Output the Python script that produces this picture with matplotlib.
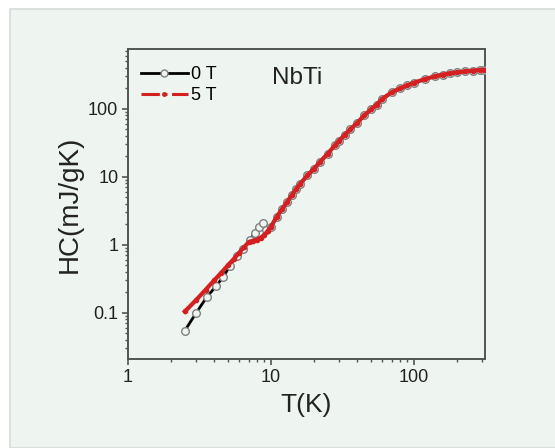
import matplotlib.pyplot as plt
from matplotlib.lines import Line2D
from matplotlib.patches import Rectangle
from matplotlib.ticker import LogLocator, NullFormatter, FixedLocator, FixedFormatter

plt.rcParams['font.family'] = ['Liberation Sans', 'DejaVu Sans']

BG = '#eef4f0'

# 0 T: superconducting part (open circles)
t_0T_sc = [2.5, 3.0, 3.55, 4.15, 4.65, 5.15, 5.75, 6.4, 7.1, 7.7, 8.3, 8.8, 9.3]
hc_0T_sc = [0.055, 0.10, 0.17, 0.25, 0.34, 0.49, 0.69, 0.86, 1.18, 1.49, 1.86, 2.13, 1.66]

# 5 T: low temperature part
t_5T_low = [2.5, 3.0, 3.5, 4.0, 4.5, 5.0, 5.5, 6.0, 6.5, 7.0, 7.5, 8.0, 8.5, 9.0, 9.5]
hc_5T_low = [0.105, 0.155, 0.22, 0.30, 0.39, 0.50, 0.62, 0.77, 0.93, 1.10, 1.15, 1.20, 1.28, 1.40, 1.60]

# normal state (both fields coincide)
t_normal = [10, 11, 12, 13, 14, 15, 16, 18, 20, 22, 25, 28, 30, 33, 36, 40, 45, 50,
            55, 60, 70, 80, 90, 100, 120, 140, 160, 180, 200, 230, 260, 290, 310]
hc_normal = [1.85, 2.6, 3.4, 4.3, 5.4, 6.6, 7.9, 10.5, 13.2, 16.5, 22, 29, 34, 42, 50, 62, 80, 98,
             116, 140, 175, 200, 222, 242, 275, 300, 320, 334, 344, 356, 366, 373, 376]

t_0T = t_0T_sc + t_normal
hc_0T = hc_0T_sc + hc_normal
t_5T = t_5T_low + t_normal
hc_5T = hc_5T_low + hc_normal

fig = plt.figure(figsize=(5.55, 4.48), dpi=100)
fig.patch.set_facecolor('white')
fig.patches.append(Rectangle((10 / 555, 0), 1.0, 1 - 9 / 448, transform=fig.transFigure,
                             facecolor=BG, edgecolor='#d6dbd7', linewidth=1.2, zorder=-5))

ax = fig.add_axes([128 / 555, 1 - 359 / 448, (485 - 128) / 555, (359 - 49) / 448])
ax.set_zorder(2)
ax.set_facecolor(BG)

ax.plot(t_0T, hc_0T, color='black', lw=2.0, marker='o', ms=5.5, mfc=BG, mec='#808080',
        mew=1.0, zorder=3)
ax.plot(t_5T, hc_5T, color='#d42020', lw=3.0, marker='o', ms=3.0, mec='#d42020', zorder=4)

ax.set_xscale('log')
ax.set_yscale('log')
ax.set_xlim(1, 315)
ax.set_ylim(0.021, 760)

ax.xaxis.set_major_locator(FixedLocator([1, 10, 100]))
ax.xaxis.set_major_formatter(FixedFormatter(['1', '10', '100']))
ax.xaxis.set_minor_locator(LogLocator(base=10, subs=range(2, 10), numticks=20))
ax.xaxis.set_minor_formatter(NullFormatter())
ax.yaxis.set_major_locator(FixedLocator([0.1, 1, 10, 100]))
ax.yaxis.set_major_formatter(FixedFormatter(['0.1', '1', '10', '100']))
ax.yaxis.set_minor_locator(LogLocator(base=10, subs=range(2, 10), numticks=20))
ax.yaxis.set_minor_formatter(NullFormatter())

for s in ax.spines.values():
    s.set_color('#505550')
    s.set_linewidth(1.4)
ax.tick_params(which='major', direction='out', length=4, width=1.2, color='#505550',
               labelsize=13, labelcolor='#222222', pad=3)
ax.tick_params(which='minor', direction='out', length=2.5, width=1.0, color='#505550')

ax.set_xlabel('T(K)', fontsize=19, color='#222222', labelpad=5)
ax.set_ylabel('HC(mJ/gK)', fontsize=20, color='#222222', labelpad=4)

ax.text(0.474, 0.905, 'NbTi', transform=ax.transAxes, fontsize=17.5, color='#222222',
        ha='center', va='center')

h0 = Line2D([], [], color='black', lw=2.0, marker='o', ms=5, mfc=BG, mec='#808080', mew=1.0)
h5 = Line2D([], [], color='#d42020', lw=2.2, ls=(0, (6, 1.5, 1, 1.5)), marker='o', ms=2.5,
            mec='#d42020')
ax.legend([h0, h5], ['0 T', '5 T'], loc='upper left', frameon=False, fontsize=13,
          handlelength=2.6, handletextpad=0.2, labelspacing=0.2, numpoints=1,
          borderaxespad=0.3, bbox_to_anchor=(0.0, 0.985))

fig.savefig('out.png', dpi=100, facecolor=fig.get_facecolor())
